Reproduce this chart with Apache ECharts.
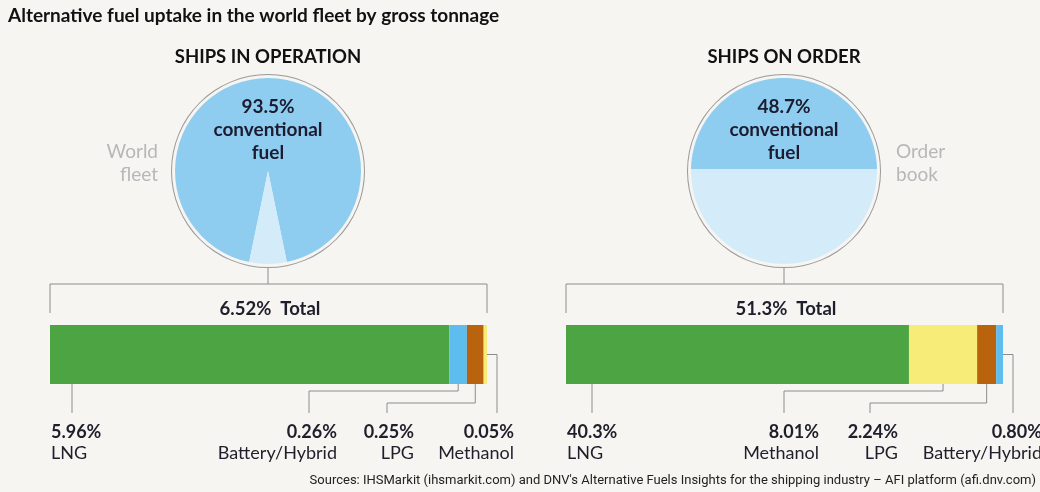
<!DOCTYPE html>
<html>
<head>
<meta charset="utf-8">
<script src="https://cdn.jsdelivr.net/npm/echarts@6/dist/echarts.min.js"></script>
<style>
  html, body { margin: 0; padding: 0; background: #f6f5f2; }
  #chart { width: 1040px; height: 492px; }
</style>
</head>
<body>
<div id="chart"></div>
<script>
// 两个饼(常规燃料占比) + 两根堆叠条(替代燃料构成)
const panels = ['SHIPS IN OPERATION', 'SHIPS ON ORDER']
const conventional = [93.5, 48.7]
const fleetLabels = ['World\nfleet', 'Order\nbook']
const totalText = ['6.52%', '51.3%']

const fuelsOp = ['LNG', 'Battery/Hybrid', 'LPG', 'Methanol']
const valuesOp = [5.96, 0.26, 0.25, 0.05]
const textOp = ['5.96%', '0.26%', '0.25%', '0.05%']

const fuelsOrd = ['LNG', 'Methanol', 'LPG', 'Battery/Hybrid']
const valuesOrd = [40.3, 8.01, 2.24, 0.80]
const textOrd = ['40.3%', '8.01%', '2.24%', '0.80%']

const fuelColor = { 'LNG': '#4ca443', 'Battery/Hybrid': '#5dbdee', 'LPG': '#b9630f', 'Methanol': '#f8ec78' }
const convColor = '#8fcdf0'
const altColor = '#d4ecf9'
const lineColor = '#8c8c8c'
const FONT = 'Lato'

// layout
const pieCx = [268, 784], pieCy = 171, pieR = 93, ringR = 97
const barLeft = [50, 566], barW = 437, barTop = 325, barH = 59
const bracketY = 284
const labelY = 432

const chart = echarts.init(document.getElementById('chart'))

const sum = (a) => a.reduce((s, v) => s + v, 0)

// 饼: 小扇区居中朝下
const altAngle = (100 - conventional[0]) / 100 * 360
const series = [
  {
    type: 'pie', silent: true, center: [pieCx[0], pieCy], radius: pieR,
    startAngle: 270 - altAngle / 2, label: { show: false }, labelLine: { show: false },
    data: [
      { value: conventional[0], itemStyle: { color: convColor } },
      { value: 100 - conventional[0], itemStyle: { color: altColor } }
    ]
  },
  {
    // 右侧: 水平分割的"液面"
    type: 'custom', coordinateSystem: 'none', silent: true,
    data: [[conventional[1]]],
    renderItem: (params, api) => {
      const f = api.value(0) / 100
      // 解 (t - sin t) / 2π = f
      let lo = 0, hi = 2 * Math.PI
      for (let k = 0; k < 60; k++) {
        const m = (lo + hi) / 2
        if ((m - Math.sin(m)) / (2 * Math.PI) < f) lo = m; else hi = m
      }
      const t = (lo + hi) / 2
      const cx = pieCx[1], cy = pieCy, r = pieR
      const pts = []
      for (let i = 0; i <= 80; i++) {
        const a = -t / 2 + t * i / 80
        pts.push([cx + r * Math.sin(a), cy - r * Math.cos(a)])
      }
      return {
        type: 'group',
        children: [
          { type: 'circle', shape: { cx, cy, r }, style: { fill: altColor } },
          { type: 'polygon', shape: { points: pts }, style: { fill: convColor } }
        ]
      }
    }
  }
]
// 外圈
pieCx.forEach(cx => {
  series.push({
    type: 'pie', silent: true, center: [cx, pieCy], radius: [ringR - 1, ringR],
    label: { show: false }, labelLine: { show: false },
    data: [{ value: 1, itemStyle: { color: '#9a9a9a' } }]
  })
})

// 堆叠条
const groups = [
  { fuels: fuelsOp, values: valuesOp, text: textOp },
  { fuels: fuelsOrd, values: valuesOrd, text: textOrd }
]
groups.forEach((g, gi) => {
  g.fuels.forEach((name, i) => {
    series.push({
      type: 'bar', name, stack: 'g' + gi, xAxisIndex: gi, yAxisIndex: gi,
      barWidth: '100%', silent: true,
      itemStyle: { color: fuelColor[name] },
      data: [g.values[i]]
    })
  })
})

const grid = barLeft.map(l => ({ left: l, width: barW, top: barTop, height: barH }))
const xAxis = groups.map((g, gi) => ({ type: 'value', gridIndex: gi, min: 0, max: sum(g.values), show: false }))
const yAxis = groups.map((g, gi) => ({ type: 'category', gridIndex: gi, data: ['fuel'], show: false }))

chart.setOption({
  backgroundColor: '#f6f5f2',
  animation: false,
  grid, xAxis, yAxis, series
})

// 文字 + 引线
const el = []
const txt = (x, y, text, o = {}) => el.push({
  type: 'text', x, y, silent: true, z: 100,
  style: Object.assign({ text, fontFamily: FONT, fontSize: 18, fill: '#1f1f2b', verticalAlign: 'middle' }, o)
})
const line = (pts) => el.push({
  type: 'polyline', silent: true, z: 90, shape: { points: pts },
  style: { stroke: lineColor, lineWidth: 1, fill: null }
})

txt(8, 16, 'Alternative fuel uptake in the world fleet by gross tonnage', { fontSize: 19, fontWeight: 'bold', fill: '#111' })
txt(1036, 481, "Sources: IHSMarkit (ihsmarkit.com) and DNV's Alternative Fuels Insights for the shipping industry – AFI platform (afi.dnv.com)",
  { fontSize: 13, fontFamily: 'Roboto', align: 'right', fill: '#222' })

panels.forEach((p, i) => {
  const cx = pieCx[i]
  txt(cx, 57, p, { fontSize: 18.5, fontWeight: 'bold', align: 'center', fill: '#111' })
  txt(cx, 130, conventional[i] + '%\nconventional\nfuel',
    { fontSize: 19, fontWeight: 'bold', align: 'center', lineHeight: 23, fill: '#1c1c30' })
  const side = i === 0 ? { x: 158, align: 'right' } : { x: 896, align: 'left' }
  txt(side.x, 163, fleetLabels[i], { fontSize: 19, align: side.align, lineHeight: 23, fill: '#b9b6b8' })
  // 饼 -> 括号
  const l = barLeft[i], r = barLeft[i] + barW
  line([[cx, pieCy + ringR], [cx, bracketY]])
  line([[l, barTop - 12], [l, bracketY], [r, bracketY], [r, barTop - 12]])
  txt(cx + 2, 309, totalText[i] + '  Total', { fontSize: 18.5, fontWeight: 'bold', align: 'center' })
})

// 引线布局: 'fixed' 固定x下垂, 'elbow' 中心下垂后折向标签, 'side' 从条右端伸出
const leaders = [
  [{ kind: 'fixed', x: 72, lx: 51, align: 'left' },
   { kind: 'elbow', y: 391, x: 309, lx: 337, align: 'right' },
   { kind: 'elbow', y: 403, x: 387, lx: 414, align: 'right' },
   { kind: 'side', x: 497, lx: 514, align: 'right' }],
  [{ kind: 'fixed', x: 592, lx: 567, align: 'left' },
   { kind: 'elbow', y: 391, x: 784, lx: 819, align: 'right' },
   { kind: 'elbow', y: 403, x: 870, lx: 898, align: 'right' },
   { kind: 'side', x: 1013, lx: 1042, align: 'right' }]
]
const barBottom = barTop + barH, lineEnd = 413
groups.forEach((g, gi) => {
  let acc = 0
  g.values.forEach((v, i) => {
    const lay = leaders[gi][i]
    const mid = chart.convertToPixel({ gridIndex: gi }, [acc + v / 2, 'fuel'])
    const end = chart.convertToPixel({ gridIndex: gi }, [acc + v, 'fuel'])
    if (lay.kind === 'fixed') line([[lay.x, barBottom], [lay.x, lineEnd]])
    else if (lay.kind === 'elbow') line([[mid[0], barBottom], [mid[0], lay.y], [lay.x, lay.y], [lay.x, lineEnd]])
    else line([[end[0], mid[1]], [lay.x, mid[1]], [lay.x, lineEnd]])
    txt(lay.lx, labelY, g.text[i], { fontWeight: 'bold', align: lay.align })
    txt(lay.lx, labelY + 21, g.fuels[i], { align: lay.align })
    acc += v
  })
})

chart.setOption({ graphic: { elements: el } })
</script>
</body>
</html>
